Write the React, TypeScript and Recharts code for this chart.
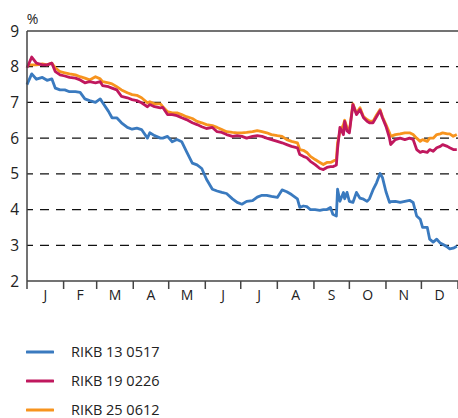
import { LineChart, Line, XAxis, YAxis, ReferenceLine } from 'recharts';

// day of year (0 = 1 Jan) for each reading
const DAYS = [
  0, 4, 8, 13, 17, 21, 24, 28, 32, 36, 41, 45, 49, 53, 58, 62, 64, 69, 72, 76,
  80, 85, 89, 93, 97, 102, 104, 108, 113, 115, 119, 123, 127, 131, 135, 140, 144, 148, 152, 157,
  161, 165, 169, 174, 178, 182, 186, 191, 195, 199, 203, 207, 212, 216, 220, 224, 229, 231, 234, 237,
  240, 244, 248, 251, 254, 257, 259, 262, 263, 265, 268, 269, 271, 273, 276, 279, 282, 285, 288, 290,
  293, 296, 299, 301, 304, 307, 308, 312, 316, 320, 324, 327, 330, 333, 335, 339, 341, 344, 347, 350,
  352, 356, 358, 361, 364,
];

const RIKB13 = [
  7.5, 7.8, 7.65, 7.7, 7.62, 7.66, 7.4, 7.35, 7.35, 7.3, 7.3, 7.28, 7.1, 7.05, 7.0, 7.1, 7.0, 6.75, 6.57, 6.57,
  6.43, 6.3, 6.25, 6.28, 6.24, 6.0, 6.15, 6.07, 6.0, 6.0, 6.05, 5.9, 5.96, 5.9, 5.63, 5.3, 5.25, 5.15, 4.85, 4.57,
  4.52, 4.48, 4.45, 4.3, 4.2, 4.15, 4.23, 4.25, 4.35, 4.4, 4.4, 4.37, 4.34, 4.55, 4.5, 4.42, 4.3, 4.06, 4.1, 4.08,
  4.0, 4.0, 3.98, 4.0, 4.0, 4.06, 3.87, 3.82, 4.57, 4.23, 4.48, 4.3, 4.48, 4.23, 4.2, 4.48, 4.32, 4.29, 4.23, 4.3,
  4.55, 4.75, 5.01, 4.9, 4.5, 4.2, 4.22, 4.23, 4.2, 4.23, 4.26, 4.2, 3.82, 3.73, 3.5, 3.5, 3.17, 3.09, 3.17, 3.06,
  3.03, 2.95, 2.9, 2.92, 2.97,
];

const RIKB19 = [
  7.97, 8.27, 8.1, 8.05, 8.05, 8.1, 7.86, 7.77, 7.74, 7.7, 7.68, 7.63, 7.55, 7.58, 7.55, 7.58, 7.47, 7.44, 7.4, 7.35,
  7.17, 7.13, 7.08, 7.05, 6.99, 6.88, 6.94, 6.88, 6.85, 6.86, 6.66, 6.66, 6.63, 6.57, 6.52, 6.43, 6.38, 6.32, 6.27, 6.3,
  6.18, 6.16, 6.1, 6.05, 6.07, 6.05, 6.0, 6.05, 6.07, 6.05, 6.0, 5.96, 5.91, 5.87, 5.82, 5.77, 5.73, 5.54, 5.49, 5.45,
  5.35, 5.26, 5.15, 5.12, 5.18, 5.2, 5.2, 5.25, 5.7, 6.3, 6.1, 6.47, 6.2, 6.15, 6.94, 6.66, 6.8, 6.57, 6.47, 6.43,
  6.43, 6.6, 6.77, 6.57, 6.33, 6.0, 5.82, 5.96, 6.0, 5.96, 6.0, 5.96, 5.68, 5.6, 5.63, 5.6, 5.68, 5.63, 5.73, 5.77,
  5.82, 5.77, 5.73, 5.68, 5.68,
];

const RIKB25 = [
  8.05, 8.05, 8.05, 8.08, 8.05, 8.1, 7.97, 7.86, 7.83, 7.8, 7.77, 7.72, 7.68, 7.63, 7.72, 7.66, 7.58, 7.55, 7.52, 7.44,
  7.35, 7.27, 7.22, 7.2, 7.13, 6.99, 7.02, 6.96, 6.96, 6.88, 6.74, 6.71, 6.71, 6.66, 6.6, 6.55, 6.47, 6.43, 6.38, 6.35,
  6.3, 6.24, 6.18, 6.16, 6.15, 6.15, 6.16, 6.18, 6.21, 6.18, 6.15, 6.1, 6.07, 6.05, 5.96, 5.91, 5.87, 5.68, 5.66, 5.6,
  5.49, 5.4, 5.32, 5.26, 5.32, 5.32, 5.35, 5.4, 5.87, 6.18, 6.38, 6.5, 6.3, 6.2, 6.96, 6.7, 6.85, 6.6, 6.52, 6.48,
  6.47, 6.65, 6.8, 6.6, 6.38, 6.15, 6.05, 6.1, 6.12, 6.15, 6.15, 6.1, 6.0, 5.91, 5.96, 5.91, 6.0, 6.0, 6.1, 6.12,
  6.15, 6.12, 6.12, 6.05, 6.1,
];

const MONTHS = ['J', 'F', 'M', 'A', 'M', 'J', 'J', 'A', 'S', 'O', 'N', 'D'];
const MONTH_START = [0, 31, 59, 90, 120, 151, 181, 212, 243, 273, 304, 334, 365];
const MONTH_MID = MONTH_START.slice(0, 12).map((d, i) => (d + MONTH_START[i + 1]) / 2);
const Y_TICKS = [2, 3, 4, 5, 6, 7, 8, 9];
const GRID_Y = [3, 4, 5, 6, 7, 8];

const SERIES = [
  { key: 'b13', name: 'RIKB 13 0517', color: '#3a7abf', values: RIKB13 },
  { key: 'b19', name: 'RIKB 19 0226', color: '#c0185e', values: RIKB19 },
  { key: 'b25', name: 'RIKB 25 0612', color: '#f7941e', values: RIKB25 },
];

const FONT = '"Open Sans", "Noto Sans", sans-serif';
const AXIS = '#444';
const TEXT = '#222';

export default function App() {
  const data = DAYS.map((d, i) => ({ day: d, b13: RIKB13[i], b19: RIKB19[i], b25: RIKB25[i] }));
  // draw order: blue, orange, red (red sits over orange)
  const drawOrder = [SERIES[0], SERIES[2], SERIES[1]];
  return (
    <div style={{ position: 'absolute', left: 0, top: 0, width: 458, height: 418, background: '#fff', fontFamily: FONT }}>
      <LineChart width={458} height={320} data={data} margin={{ top: 31, right: 0, left: 0, bottom: 0 }}
        style={{ fontFamily: FONT }}>
        <XAxis dataKey="day" type="number" domain={[0, 365]} ticks={MONTH_START} interval={0}
          height={1} tickSize={8} tickMargin={0} tick={{ fontSize: 1, fill: 'none' }} tickFormatter={() => ' '}
          axisLine={{ stroke: AXIS, strokeWidth: 1.5 }} tickLine={{ stroke: AXIS, strokeWidth: 1.5 }} />
        <XAxis xAxisId="m" dataKey="day" type="number" domain={[0, 365]} ticks={MONTH_MID}
          height={38} tickSize={0} tickMargin={8} axisLine={false} tickLine={false}
          tickFormatter={(v: number) => MONTHS[MONTH_MID.indexOf(v)] ?? ''}
          tick={{ fill: TEXT, fontSize: 14 }} interval={0} />
        <YAxis type="number" domain={[2, 9]} ticks={Y_TICKS} width={27} tickLine={false}
          axisLine={{ stroke: AXIS, strokeWidth: 1.5 }} tick={{ fill: TEXT, fontSize: 15.5 }} interval={0}
          label={{ value: '%', position: 'top', offset: 7, dx: 19, fontSize: 14, fill: TEXT }} />
        {GRID_Y.map(v => (
          <ReferenceLine key={v} y={v} stroke="#111" strokeWidth={1.2} strokeDasharray="9 7" strokeDashoffset={3} />
        ))}
        <ReferenceLine y={9} stroke={AXIS} strokeWidth={1.5} />
        {drawOrder.map(s => (
          <Line key={s.key} dataKey={s.key} type="linear" stroke={s.color} strokeWidth={2.8}
            dot={false} activeDot={false} isAnimationActive={false} strokeLinejoin="round" />
        ))}
      </LineChart>
      <div style={{ position: 'absolute', left: 26, top: 337 }}>
        {SERIES.map(s => (
          <div key={s.key} style={{ display: 'flex', alignItems: 'center', height: 29 }}>
            <svg width={28} height={6} style={{ display: 'block' }}>
              <line x1={1} y1={3} x2={27} y2={3} stroke={s.color} strokeWidth={3} strokeLinecap="round" />
            </svg>
            <span style={{ marginLeft: 17, fontSize: 14.5, color: TEXT }}>{s.name}</span>
          </div>
        ))}
      </div>
    </div>
  );
}
